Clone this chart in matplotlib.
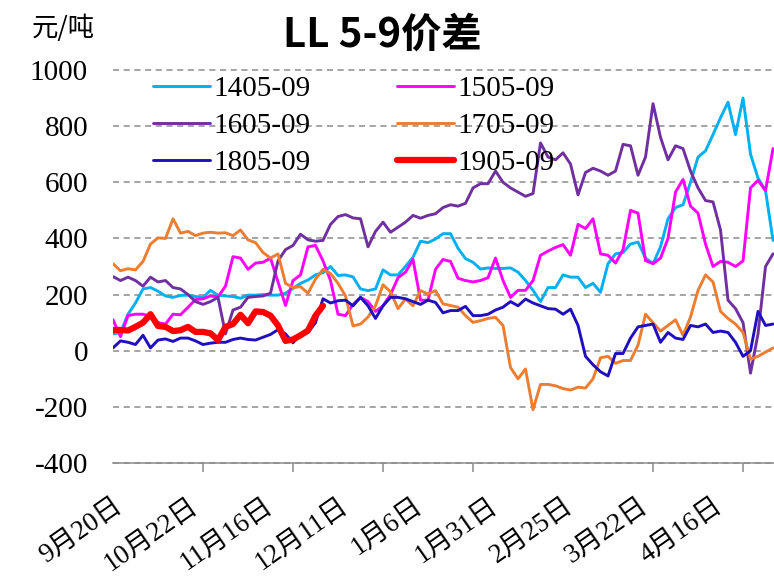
import numpy as np
import matplotlib
matplotlib.use('Agg')
import matplotlib.pyplot as plt

plt.rcParams['font.family'] = ['Liberation Serif', 'Noto Sans CJK SC']
plt.rcParams['axes.unicode_minus'] = False

# 数据: 每个点一个样本(交易日序号), 估计值
date_labels = ['9月20日', '10月22日', '11月16日', '12月11日', '1月6日',
               '1月31日', '2月25日', '3月22日', '4月16日']
label_step = 10   # 每10个样本一个日期标签
tick_step = 12    # 每12个样本一个刻度线

s1405 = [60, 65, 130, 170, 220, 225, 212, 195, 190, 197,
         198, 193, 190, 215, 198, 195, 193, 187, 198, 198,
         200, 198, 198, 205, 222, 240, 252, 270, 278, 300,
         268, 270, 263, 220, 214, 220, 288, 270, 270, 300,
         333, 390, 385, 398, 417, 417, 365, 328, 315, 291,
         295, 293, 293, 295, 280, 250, 215, 175, 225, 225,
         270, 262, 262, 225, 240, 208, 310, 345, 350, 380,
         387, 330, 310, 370, 470, 510, 520, 600, 690, 712,
         770, 830, 885, 770, 900, 700, 615, 570, 393]
s1505 = [110, 50, 125, 130, 130, 123, 100, 95, 130, 128,
         155, 182, 185, 195, 192, 230, 335, 330, 290, 312,
         315, 330, 245, 161, 250, 270, 370, 375, 320, 250,
         130, 125, 165, 190, 175, 140, 160, 200, 260, 280,
         325, 180, 180, 290, 325, 318, 258, 250, 245, 250,
         260, 330, 250, 190, 215, 215, 250, 340, 355, 368,
         378, 340, 450, 435, 470, 345, 340, 312, 360, 500,
         490, 321, 310, 330, 400, 565, 610, 515, 490, 380,
         300, 318, 315, 300, 320, 580, 607, 570, 720]
s1605 = [264, 250, 262, 250, 230, 262, 245, 250, 225, 220,
         200, 175, 165, 175, 190, 60, 145, 155, 190, 193,
         195, 205, 320, 360, 375, 415, 395, 390, 393, 450,
         478, 485, 473, 470, 370, 425, 458, 422, 440, 458,
         482, 472, 482, 488, 510, 520, 515, 525, 580, 595,
         595, 640, 600, 580, 565, 550, 560, 740, 690, 680,
         705, 665, 555, 635, 650, 640, 625, 640, 735, 730,
         625, 690, 880, 760, 680, 730, 720, 640, 580, 535,
         530, 430, 180, 150, 100, -80, 60, 300, 345]
s1705 = [310, 285, 292, 288, 318, 380, 402, 400, 470, 419,
         425, 410, 419, 422, 419, 420, 410, 430, 395, 385,
         350, 330, 345, 240, 225, 228, 205, 255, 290, 275,
         240, 195, 88, 95, 120, 160, 235, 210, 150, 184,
         160, 214, 202, 214, 167, 161, 155, 125, 101, 107,
         115, 119, 90, -60, -100, -65, -210, -120, -120, -125,
         -135, -140, -130, -133, -100, -25, -20, -45, -35, -35,
         20, 130, 100, 70, 90, 110, 55, 120, 215, 270,
         245, 140, 115, 95, 65, -30, -20, -5, 10]
s1805 = [10, 35, 30, 22, 55, 10, 38, 42, 33, 45,
         45, 35, 22, 27, 30, 30, 40, 45, 40, 38,
         48, 58, 75, 60, 28, 60, 65, 100, 185, 170,
         178, 180, 160, 190, 160, 115, 160, 190, 190, 185,
         175, 165, 180, 172, 135, 143, 143, 158, 125, 125,
         130, 145, 155, 175, 160, 184, 170, 160, 150, 148,
         130, 148, 90, -20, -50, -75, -90, -10, -10, 45,
         85, 90, 95, 30, 65, 45, 40, 90, 85, 95,
         65, 70, 65, 30, -20, 0, 140, 90, 95]
s1905 = [74, 74, 72, 85, 100, 130, 88, 85, 70, 73,
         85, 67, 67, 62, 38, 85, 95, 128, 98, 140,
         138, 125, 90, 35, 40, 55, 72, 125, 160]

series = [
    ('1405-09', s1405, '#00B0F0', 2.1),
    ('1505-09', s1505, '#FF00FF', 2.1),
    ('1605-09', s1605, '#7030A0', 2.1),
    ('1705-09', s1705, '#ED7D31', 2.1),
    ('1805-09', s1805, '#1F0FBF', 2.1),
    ('1905-09', s1905, '#FF0000', 4.5),
]

W, H = 774, 582
fig = plt.figure(figsize=(W / 100, H / 100), dpi=100)
ax = fig.add_axes([113 / W, 1 - 463 / H, 1 - 113 / W, (463 - 70) / H])

lines = {}
for name, vals, color, lw in series:
    ln, = ax.plot(np.arange(len(vals)), vals, color=color, lw=lw, label=name,
                  solid_joinstyle='round', solid_capstyle='round')
    lines[name] = ln

ax.set_ylim(-400, 1000)
ax.set_xlim(0, 88.13)
ax.set_yticks(np.arange(-400, 1001, 200))
ax.grid(axis='y', color='#8C8C8C', lw=1.1, linestyle=(0, (4, 3)))
for gl in ax.get_ygridlines():
    gl.set_clip_on(False)
ax.set_axisbelow(True)

for sp in ['left', 'top', 'right']:
    ax.spines[sp].set_visible(False)
ax.spines['bottom'].set_color('#8C8C8C')
ax.spines['bottom'].set_linewidth(1.1)

ax.tick_params(axis='y', length=0, pad=18, labelsize=21)

ax.set_xticks(np.arange(len(date_labels)) * label_step)
ax.set_xticklabels(date_labels)
ax.set_xticks(np.arange(0, 89, tick_step), minor=True)
ax.tick_params(axis='x', which='major', length=0, pad=22, labelsize=19.5)
ax.tick_params(axis='x', which='minor', length=6.5, width=1.1, color='#8C8C8C', direction='out')
for lbl in ax.get_xticklabels():
    lbl.set_rotation(35)
    lbl.set_ha('right')
    lbl.set_va('top')
    lbl.set_rotation_mode('anchor')

order = ['1405-09', '1605-09', '1805-09', '1505-09', '1705-09', '1905-09']
leg = ax.legend([lines[n] for n in order], order, ncol=2, frameon=False,
                loc='upper left', bbox_to_anchor=(153 / W, 1 - 76 / H),
                bbox_transform=fig.transFigure, borderpad=0, borderaxespad=0,
                handlelength=1.95, handletextpad=0.12, columnspacing=2.95,
                labelspacing=0.36, prop={'size': 21})

fig.text(382 / W, 1 - 35 / H, 'LL 5-9价差', ha='center', va='center', fontsize=29,
         fontweight='bold', family=['Noto Sans CJK SC'])
fig.text(32 / W, 1 - 28 / H, '元/吨', ha='left', va='center', fontsize=19,
         family=['Noto Sans CJK SC'])

fig.savefig('out.png', dpi=100)
